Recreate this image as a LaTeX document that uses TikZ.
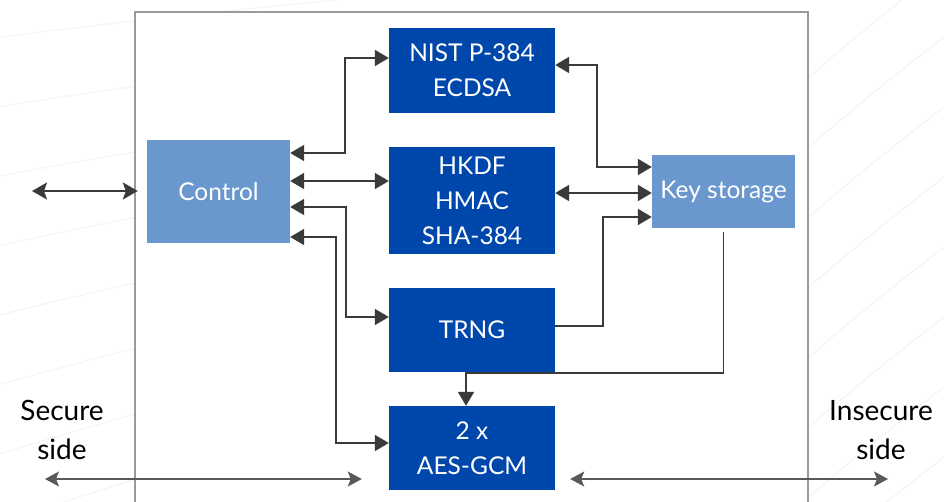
\documentclass[tikz,border=0pt]{standalone}
\usepackage{fontspec}
\setmainfont{Lato}
\usetikzlibrary{arrows.meta,calc}
\definecolor{coreblue}{HTML}{0047AB}
\definecolor{softblue}{HTML}{6A98CE}
\definecolor{wire}{HTML}{3A3A3A}
\definecolor{framegray}{HTML}{9A9A9A}
\tikzset{
  block/.style={fill=coreblue, text=white, align=center, inner sep=0pt,
    minimum width=166pt, font=\fontsize{24.5}{35}\selectfont},
  ctrlblock/.style={fill=softblue, text=white, align=center, inner sep=0pt,
    minimum width=143pt, font=\fontsize{24.5}{35}\selectfont},
  link/.style={draw=wire, line width=1.8pt,
    arrows={Triangle[length=14pt,width=16pt]-Triangle[length=14pt,width=16pt]}},
  feed/.style={draw=wire, line width=1.8pt, arrows={-Triangle[length=14pt,width=16pt]}},
  port/.style={draw=wire, line width=2pt,
    arrows={Stealth[length=15pt,width=17pt,inset=3pt]-Stealth[length=15pt,width=17pt,inset=3pt]}},
  sideport/.style={draw=black!65, line width=1.4pt,
    arrows={Stealth[length=14pt,width=15pt,inset=3pt]-Stealth[length=14pt,width=15pt,inset=3pt]}},
  sidelabel/.style={align=center, font=\fontsize{28}{39}\selectfont},
  swirl/.style={draw=black!4, line width=1.3pt}
}
\begin{document}
\begin{tikzpicture}[x=1pt,y=-1pt]
\useasboundingbox (0,0) rectangle (944,502);

% faint background texture
\begin{scope}
  \clip (0,0) rectangle (944,502);
  \foreach \k in {0,...,7}{
    \draw[swirl] (-20,40+\k*70) .. controls (120,20+\k*66) and (300,5+\k*60) .. (520,-20+\k*58);
  }
  \foreach \k in {0,...,8}{
    \draw[swirl] (760,120+\k*70) .. controls (850,40+\k*70) and (900,0+\k*70) .. (980,-60+\k*70);
  }
\end{scope}

% device frame
\draw[framegray, line width=1.3pt, fill=white] (135,520) -- (135,12) -- (808,12) -- (808,520);

% blocks
\node[ctrlblock, minimum height=103pt] (ctrl) at (218.5,191.5) {Control};
\node[block, minimum height=85pt]  (nist) at (472,70.5)  {NIST P-384\\ECDSA};
\node[block, minimum height=107pt] (hkdf) at (472,200.5) {HKDF\\HMAC\\SHA-384};
\node[block, minimum height=84pt]  (trng) at (472,330)   {TRNG};
\node[block, minimum height=84pt]  (aes)  at (472,448)   {2 x\\AES-GCM};
\node[ctrlblock, minimum height=73pt] (key) at (723.5,191.5) {Key storage};

% side labels
\node[sidelabel] (secure) at (62,430) {Secure\\side};
\node[sidelabel] (insecure) at (881,430) {Insecure\\side};

% free ends of the outside ports
\coordinate (hostin) at (32,191);
\coordinate (secend) at (45,479);
\coordinate (insend) at (888,479);

% control bus
\draw[link] ([yshift=38.5pt]ctrl.east) -- ++(55,0) |- ([yshift=12.5pt]nist.west);
\draw[link] ([yshift=10.5pt]ctrl.east) -- ([yshift=19.5pt]hkdf.west);
\draw[link] ([yshift=-15.5pt]ctrl.east) -- ++(56,0) |- ([yshift=13pt]trng.west);
\draw[link] ([yshift=-45.5pt]ctrl.east) -- ++(46,0) |- ([yshift=5pt]aes.west);

% key paths
\draw[link] ([yshift=5.5pt]nist.east) -- ++(42,0) |- ([yshift=24.5pt]key.west);
\draw[link] ([yshift=7.5pt]hkdf.east) -- ([yshift=-1.5pt]key.west);
\draw[feed] ([yshift=4pt]trng.east) -- ++(48,0) |- ([yshift=-25.5pt]key.west);
\draw[feed] ([yshift=-4pt]key.south) -- ++(0,141) -| ([xshift=-6pt]aes.north);

% outside ports
\draw[port] (hostin) -- ([xshift=-9pt]ctrl.west |- hostin);
\draw[sideport] (secend) -- ([xshift=-27pt]aes.west |- secend);
\draw[sideport] ([xshift=15pt]aes.east |- insend) -- (insend);
\end{tikzpicture}
\end{document}
